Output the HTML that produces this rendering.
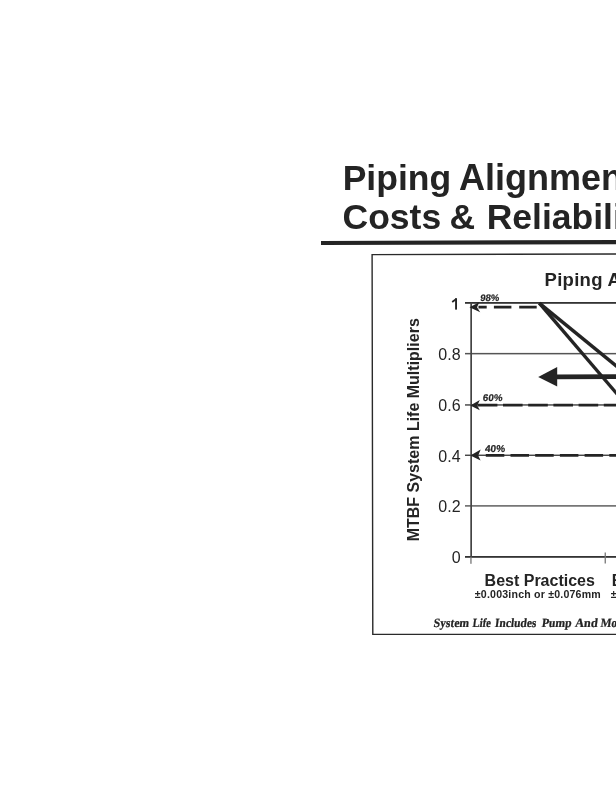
<!DOCTYPE html>
<html><head><meta charset="utf-8">
<style>
html,body{margin:0;padding:0;background:#fff;width:616px;height:800px;overflow:hidden}
svg{position:absolute;left:0;top:0;display:block;filter:grayscale(1)}
text{font-family:"Liberation Sans",sans-serif;fill:#242424}
.b{font-weight:bold}
.serif{font-family:"Liberation Serif",serif;font-weight:bold;font-style:italic}
</style></head><body>
<svg width="616" height="800" viewBox="0 0 616 800">
<!-- Title -->
<text class="b" y="189.7" font-size="36"><tspan x="342.7" font-size="35.5">Piping</tspan><tspan x="459">Alignment</tspan></text>
<text class="b" y="228.5" font-size="35.5"><tspan x="342.5">Costs</tspan><tspan x="449.4">&amp;</tspan><tspan x="486.7">Reliability</tspan></text>
<polygon points="321,241 616,240 616,244.2 321,245.1" fill="#242424"/>
<!-- chart box -->
<path d="M372.1 254.6 L620 254 M372.1 254 L372.8 634.4 L620 634.4" fill="none" stroke="#2a2a2a" stroke-width="1.4"/>
<text class="b" x="544.6" y="285.7" font-size="18.5" letter-spacing="0.27">Piping Alignment</text>
<!-- gridlines -->
<g fill="#333">
<rect x="465" y="302" width="151" height="1.8"/>
<rect x="465" y="352.9" width="151" height="1.5" fill="#555"/>
<rect x="465" y="404.3" width="151" height="1.3"/>
<rect x="465" y="454.6" width="151" height="1.3"/>
<rect x="465" y="505.2" width="151" height="1.4" fill="#555"/>
<rect x="465" y="556" width="151" height="1.8"/>
<rect x="470.3" y="302.5" width="1.7" height="255" fill="#444"/>
</g>
<g fill="#777">
<rect x="470.3" y="557" width="1.3" height="6.8"/>
<rect x="604.6" y="552.5" width="1.3" height="11"/>
</g>
<!-- y labels -->
<rect x="455.1" y="298.3" width="1.9" height="11.3" fill="#242424"/>
<path d="M456.6 298.8 L452.2 301.9" stroke="#242424" stroke-width="1.8" fill="none"/>
<g font-size="16" text-anchor="end">
<text x="460.6" y="360">0.8</text>
<text x="460.6" y="411.2">0.6</text>
<text x="460.6" y="461.6">0.4</text>
<text x="460.6" y="512.3">0.2</text>
<text x="460.6" y="562.9">0</text>
</g>
<text class="b" font-size="16" transform="translate(418.7,429.8) rotate(-90)" text-anchor="middle">MTBF System Life Multipliers</text>
<!-- dashed lines -->
<g stroke="#242424" stroke-width="2.7" stroke-dasharray="18.5 6.2" fill="none">
<line x1="478.5" y1="307.2" x2="536.7" y2="307.2" stroke-dasharray="8.2 7.2 17.5 7.8 30"/>
<line x1="477.8" y1="405.2" x2="620" y2="405.2" stroke-dasharray="19.6 5.6"/>
<line x1="485.8" y1="455.4" x2="620" y2="455.4"/>
</g>
<g fill="#242424">
<path d="M469.5 307.2 L479.3 302.3 L477 307.2 L480.2 312.2 Z"/>
<path d="M470.3 405.4 L479.8 400 L477.3 405.4 L479.8 410.3 Z"/>
<path d="M470.4 455.4 L480.7 449.5 L478.2 455.4 L480.6 460.5 Z"/>
</g>
<g font-size="9.5" font-weight="bold" stroke="#242424" stroke-width="0.2">
<text transform="translate(480,301) skewX(-7)">98%</text>
<text transform="translate(482.6,401.2) skewX(-7)" font-size="9.8">60%</text>
<text transform="translate(484.8,452.1) skewX(-5)" font-size="10">40%</text>
</g>
<!-- diagonals -->
<g stroke="#242424" stroke-width="3.4" fill="none">
<line x1="539.3" y1="303.1" x2="640" y2="385.3"/>
<line x1="539.3" y1="303.1" x2="640" y2="420.8"/>
</g>
<!-- big arrow -->
<path d="M555 374.6 L616 374.3 L616 379.1 L555 379.3 Z" fill="#242424"/>
<path d="M538.2 376.9 L557.2 367 L557.2 386.5 Z" fill="#242424"/>
<!-- x labels -->
<text class="b" x="484.6" y="585.9" font-size="16">Best Practices</text>
<text class="b" x="611.8" y="585.9" font-size="16">B</text>
<text class="b" x="474.8" y="598" font-size="10.6" letter-spacing="0.2">±0.003inch or ±0.076mm</text>
<text class="b" x="610.8" y="598" font-size="10.6">±</text>
<g transform="translate(0,626.7) skewX(-7)"><text y="0" font-size="12.6" style="font-family:'Liberation Serif',serif;font-weight:bold;stroke:#242424;stroke-width:0.25" lengthAdjust="spacingAndGlyphs"><tspan x="433.3" textLength="35.4" lengthAdjust="spacingAndGlyphs">System</tspan><tspan x="472.2" textLength="18.4" lengthAdjust="spacingAndGlyphs">Life</tspan><tspan x="494.6" textLength="41.4" lengthAdjust="spacingAndGlyphs">Includes</tspan><tspan x="541.5" textLength="29.8" lengthAdjust="spacingAndGlyphs">Pump</tspan><tspan x="574.7" textLength="22.6" lengthAdjust="spacingAndGlyphs">And</tspan><tspan x="600.2" textLength="31" lengthAdjust="spacingAndGlyphs">Motor</tspan></text></g>
</svg>
</body></html>
